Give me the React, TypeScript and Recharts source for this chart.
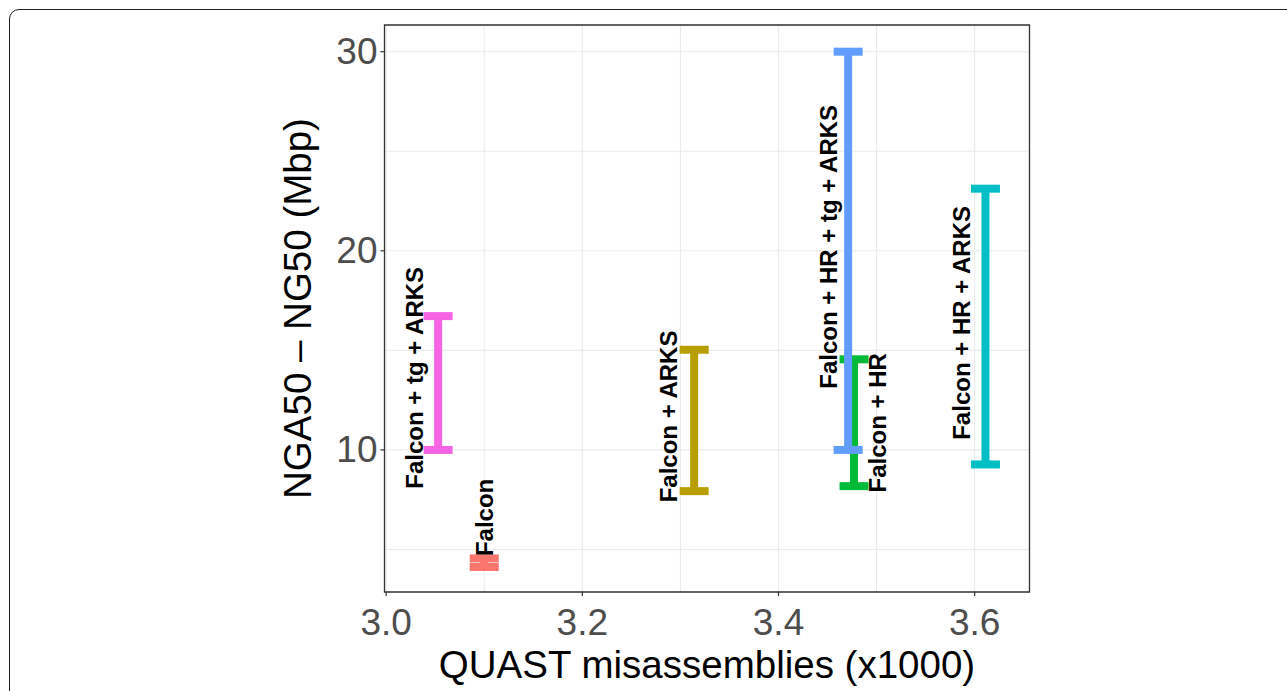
import React from 'react';
import { ComposedChart, Scatter, ErrorBar, XAxis, YAxis, CartesianGrid, ReferenceArea } from 'recharts';

const groups = ['Falcon', 'Falcon + ARKS', 'Falcon + HR', 'Falcon + HR + ARKS', 'Falcon + HR + tg + ARKS', 'Falcon + tg + ARKS'];
const colors = ['#F8766D', '#B79F00', '#00BA38', '#00BFC4', '#619CFF', '#F564E3'];
const misassemblies = [3.1, 3.314, 3.477, 3.611, 3.471, 3.053];
const ngMin = [4.12, 7.93, 8.18, 9.27, 10.0, 10.0];
const ngMax = [4.55, 15.03, 14.55, 23.12, 30.0, 16.72];
const labelX = [3.1007, 3.2883, 3.5008, 3.5866, 3.4513, 3.0291];
const labelY = [6.61, 11.68, 11.36, 16.38, 20.2, 13.62];

const xTicks = [3.0, 3.1, 3.2, 3.3, 3.4, 3.5, 3.6];
const xMajor = [3.0, 3.2, 3.4, 3.6];
const yTicks = [5, 10, 15, 20, 25, 30];
const yMajor = [10, 20, 30];
const xDomain = [2.9983, 3.6559];
const yDomain = [2.864, 31.34];

const FONT = '"Liberation Sans", Arial, Helvetica, sans-serif';
const TICK_SIZE = 4;
const Y_MARGIN = 3;
const X_MARGIN = 12;

const isMajor = (list: number[], v: number) => list.some((m) => Math.abs(m - v) < 1e-6);

const YTick = (props: any) => {
  const { x, y, payload } = props;
  if (!isMajor(yMajor, payload.value)) return null;
  return (
    <g>
      <line x1={x + Y_MARGIN} x2={x + Y_MARGIN + TICK_SIZE} y1={y} y2={y} stroke="#333333" strokeWidth={1.2} />
      <text x={x} y={y} textAnchor="end" dominantBaseline="central" fill="#4D4D4D" fontSize={37} fontFamily={FONT}>
        {String(payload.value)}
      </text>
    </g>
  );
};

const XTick = (props: any) => {
  const { x, y, payload } = props;
  if (!isMajor(xMajor, payload.value)) return null;
  return (
    <g>
      <line x1={x} x2={x} y1={y - X_MARGIN - TICK_SIZE} y2={y - X_MARGIN} stroke="#333333" strokeWidth={1.2} />
      <text x={x} y={y} dy="0.72em" textAnchor="middle" fill="#4D4D4D" fontSize={37} fontFamily={FONT}>
        {Number(payload.value).toFixed(1)}
      </text>
    </g>
  );
};

const labelData = groups.map((g, i) => ({ x: labelX[i], y: labelY[i], label: g }));

const LabelShape = (p: any) => {
  const { cx, cy, payload } = p;
  return (
    <text
      x={cx}
      y={cy}
      transform={`rotate(-90 ${cx} ${cy})`}
      textAnchor="middle"
      dominantBaseline="central"
      fontSize={24}
      fontWeight="bold"
      fontFamily={FONT}
      fill="#000000"
    >
      {payload.label}
    </text>
  );
};

export default function App() {
  return (
    <div style={{ position: 'fixed', left: 0, top: 0, width: 1287, height: 691, overflow: 'hidden', background: '#ffffff' }}>
      <div
        style={{
          position: 'absolute',
          left: 8.5,
          top: 8.5,
          width: 1320,
          height: 720,
          border: '1.7px solid #1e1e1e',
          borderRadius: 10,
          boxSizing: 'border-box',
        }}
      />
      <div style={{ position: 'absolute', left: 0, top: 0 }}>
        <ComposedChart width={1287} height={691} margin={{ top: 25, right: 257.5, bottom: 0, left: 0 }}>
          <CartesianGrid stroke="#EBEBEB" strokeWidth={1.1} />
          <XAxis
            type="number"
            dataKey="x"
            domain={xDomain}
            allowDataOverflow
            ticks={xTicks}
            interval={0}
            height={99}
            axisLine={false}
            tickLine={false}
            tickSize={TICK_SIZE}
            tickMargin={X_MARGIN}
            tick={<XTick />}
          />
          <YAxis
            type="number"
            dataKey="y"
            domain={yDomain}
            allowDataOverflow
            ticks={yTicks}
            interval={0}
            width={384.5}
            axisLine={false}
            tickLine={false}
            tickSize={TICK_SIZE}
            tickMargin={Y_MARGIN}
            tick={<YTick />}
          />
          {groups.map((g, i) => (
            <Scatter
              key={g}
              name={g}
              data={[{ x: misassemblies[i], y: ngMin[i], err: [0, ngMax[i] - ngMin[i]] }]}
              shape={() => <g />}
              isAnimationActive={false}
            >
              <ErrorBar dataKey="err" direction="y" width={14.5} strokeWidth={8} stroke={colors[i]} isAnimationActive={false} />
            </Scatter>
          ))}
          <Scatter name="labels" data={labelData} shape={<LabelShape />} isAnimationActive={false} />
          <ReferenceArea
            x1={xDomain[0]}
            x2={xDomain[1]}
            y1={yDomain[0]}
            y2={yDomain[1]}
            fill="none"
            fillOpacity={0}
            stroke="#333333"
            strokeWidth={1.3}
            ifOverflow="visible"
          />
        </ComposedChart>
      </div>
      <svg style={{ position: 'absolute', left: 0, top: 0 }} width={1287} height={691}>
        <text x={707} y={678} textAnchor="middle" fontSize={38.5} fontFamily={FONT} fill="#000000">
          QUAST misassemblies (x1000)
        </text>
        <text
          x={311}
          y={308.5}
          transform="rotate(-90 311 308.5)"
          textAnchor="middle"
          fontSize={38.5}
          fontFamily={FONT}
          fill="#000000"
        >
          NGA50 – NG50 (Mbp)
        </text>
      </svg>
    </div>
  );
}
